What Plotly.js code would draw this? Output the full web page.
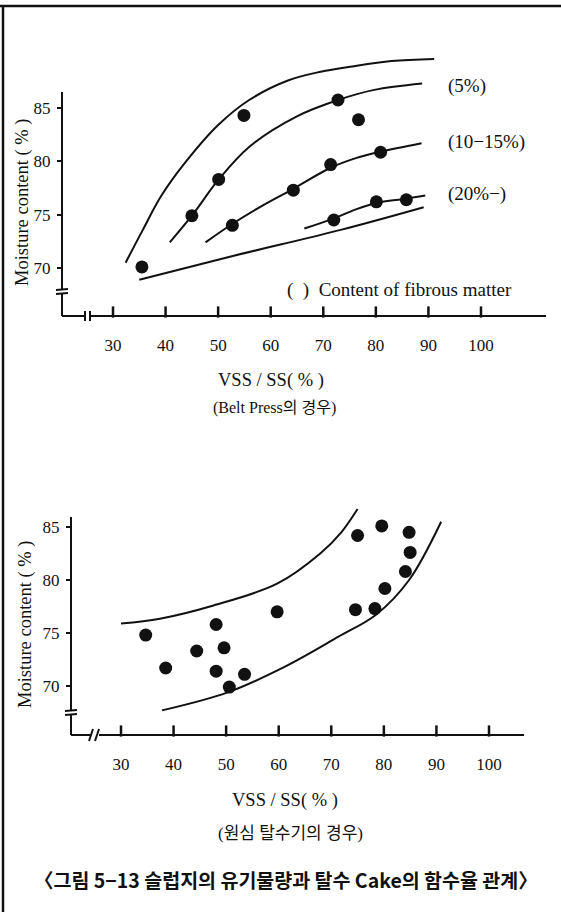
<!DOCTYPE html>
<html>
<head>
<meta charset="utf-8">
<script src="https://cdn.plot.ly/plotly-3.0.1.min.js"></script>
<style>html,body{margin:0;padding:0;background:#fff;}#chart{width:561px;height:918px;}</style>
</head>
<body>
<div id="chart"></div>
<script>
// ---- Belt press (top) ----
const beltX = [35.5, 45.0, 50.1, 54.9, 72.8, 76.7, 52.7, 64.3, 71.4, 80.9, 72.0, 80.1, 85.8];
const beltY = [70.1, 74.9, 78.3, 84.3, 85.75, 83.9, 74.0, 77.3, 79.7, 80.85, 74.5, 76.2, 76.4];

const upperEnvX = [32.4, 35.7, 39.1, 43.6, 50, 55.9, 63.4, 69.5, 75.5, 83, 91.1];
const upperEnvY = [70.5, 73.6, 76.7, 79.8, 83.4, 85.75, 87.6, 88.4, 88.9, 89.4, 89.6];
const fiber5X = [40.8, 45, 50.1, 56, 64.9, 72.8, 79.7, 88.8];
const fiber5Y = [72.4, 74.9, 78.3, 81.4, 84.2, 85.75, 86.7, 87.3];
const fiber10X = [47.6, 52.6, 58.6, 64.2, 71.4, 76.2, 80.8, 88.7];
const fiber10Y = [72.4, 74.1, 75.9, 77.4, 79.4, 80.3, 80.9, 81.7];
const fiber20X = [66.4, 71.8, 76.2, 80.1, 85.7, 89.4];
const fiber20Y = [73.7, 74.6, 75.5, 76.1, 76.5, 76.8];
const lowerEnvX = [35.0, 52.6, 73.5, 89.1];
const lowerEnvY = [68.9, 71.1, 73.6, 75.7];

// ---- Centrifuge (bottom) ----
const centX = [34.7, 38.5, 44.4, 48.1, 49.6, 48.1, 50.6, 53.5, 59.7, 74.6, 78.3, 75.0, 79.6, 84.8, 85.0, 84.1, 80.2];
const centY = [74.8, 71.7, 73.3, 75.8, 73.6, 71.4, 69.9, 71.1, 77.0, 77.2, 77.3, 84.2, 85.1, 84.5, 82.6, 80.8, 79.2];
const centUpX = [30, 37.4, 47.6, 59.7, 67.9, 71.9, 75.0];
const centUpY = [75.9, 76.35, 77.6, 79.65, 82.5, 84.5, 86.7];
const centLowX = [37.8, 50.3, 61.1, 71.2, 78.7, 84.8, 90.9];
const centLowY = [67.7, 69.4, 71.8, 74.6, 76.8, 80.0, 85.5];

const xTicks = [30, 40, 50, 60, 70, 80, 90, 100];
const xTickText = ['30', '40', '50', '60', '70', '80', '90', '100'];
const yTicks = [70, 75, 80, 85];
const yTickText = ['70', '75', '80', '85'];

const labelsTop = ['(5%)', '(10\u221215%)', '(20%\u2212)'];
const legendNote = '(  )  Content of fibrous matter';
const xTitle = 'VSS / SS( % )';
const yTitle = 'Moisture content ( % )';
const subTop = '(Belt Press\uC758 \uACBD\uC6B0)';
const subBottom = '(\uC6D0\uC2EC \uD0C8\uC218\uAE30\uC758 \uACBD\uC6B0)';
const mainTitle = '\u3008\uADF8\uB9BC 5\u221213 \uC2AC\uB7FD\uC9C0\uC758 \uC720\uAE30\uBB3C\uB7C9\uACFC \uD0C8\uC218 Cake\uC758 \uD568\uC218\uC728 \uAD00\uACC4\u3009';

const W = 561, H = 918;
const px = v => v / W;
const py = v => 1 - v / H;
const SERIF = 'Liberation Serif, Times New Roman, Noto Sans CJK KR, serif';
const BLK = '#111';

// axis ranges (plot areas span the drawn axes)
const xRange1 = [30 - 51 / 5.257, 30 + 433 / 5.257];
const yRange1 = [70 - 48 / 10.667, 85 + 58 / 10.667];
const xRange2 = [30 - 50 / 5.257, 30 + 403 / 5.257];
const yRange2 = [70 - 49 / 10.6, 85 + 27 / 10.6];

function curve(x, y, xa, ya) {
  return {x: x, y: y, xaxis: xa, yaxis: ya, mode: 'lines', type: 'scatter',
    line: {color: BLK, width: 2, shape: 'spline', smoothing: 1}, hoverinfo: 'skip', showlegend: false};
}
function dots(x, y, xa, ya) {
  return {x: x, y: y, xaxis: xa, yaxis: ya, mode: 'markers', type: 'scatter',
    marker: {color: BLK, size: 13}, hoverinfo: 'skip', showlegend: false};
}
// small upward tick marks sitting on the x axis
function tickMarks(xa, ya, yr, pxPerUnit) {
  return {x: xTicks, y: xTicks.map(() => yr[0] + 4 / pxPerUnit), xaxis: xa, yaxis: ya,
    mode: 'markers', type: 'scatter', cliponaxis: false,
    marker: {symbol: 'line-ns', size: 8, line: {color: BLK, width: 2.5}}, hoverinfo: 'skip', showlegend: false};
}

const data = [
  curve(upperEnvX, upperEnvY, 'x', 'y'),
  curve(fiber5X, fiber5Y, 'x', 'y'),
  curve(fiber10X, fiber10Y, 'x', 'y'),
  curve(fiber20X, fiber20Y, 'x', 'y'),
  curve(lowerEnvX, lowerEnvY, 'x', 'y'),
  dots(beltX, beltY, 'x', 'y'),
  tickMarks('x', 'y', yRange1, 10.667),
  curve(centUpX, centUpY, 'x2', 'y2'),
  curve(centLowX, centLowY, 'x2', 'y2'),
  dots(centX, centY, 'x2', 'y2'),
  tickMarks('x2', 'y2', yRange2, 10.6)
];

function xax(domain, range, anchor) {
  return {domain: domain, range: range, anchor: anchor, showline: false, showgrid: false, zeroline: false,
    tickmode: 'array', tickvals: xTicks, ticktext: xTickText, ticks: '',
    ticklabelstandoff: 17, tickfont: {family: SERIF, size: 17, color: BLK}};
}
function yax(domain, range, anchor) {
  return {domain: domain, range: range, anchor: anchor, showline: false, showgrid: false, zeroline: false,
    tickmode: 'array', tickvals: yTicks, ticktext: yTickText, ticks: 'outside', ticklen: 4, tickwidth: 2,
    tickcolor: BLK, ticklabelstandoff: 3, tickfont: {family: SERIF, size: 17, color: BLK}};
}

function seg(x0, y0, x1, y1, w) {
  return {type: 'line', xref: 'paper', yref: 'paper', x0: px(x0), y0: py(y0), x1: px(x1), y1: py(y1),
    line: {color: BLK, width: w || 2}};
}

const shapes = [
  // page frame
  seg(0, 6, 561, 6, 2.5),
  seg(3, 6, 3, 912, 2.5),
  // top chart axes
  seg(62, 92, 62, 290), seg(62, 294, 62, 316),
  seg(56, 290, 68, 289), seg(56, 294, 68, 293),
  seg(62, 316, 85, 316), seg(90, 316, 546, 316),
  seg(85, 311, 85, 321), seg(90, 311, 90, 321),
  // bottom chart axes
  seg(71, 517, 71, 711), seg(71, 715, 71, 735),
  seg(65, 711, 77, 710), seg(65, 715, 77, 714),
  seg(71, 735, 91, 735), seg(99, 735, 524, 735),
  seg(89, 741, 93, 729), seg(95, 741, 99, 729)
];

function ann(text, x, y, size, opts) {
  return Object.assign({text: text, xref: 'paper', yref: 'paper', x: px(x), y: py(y), showarrow: false,
    xanchor: 'center', yanchor: 'middle', font: {family: SERIF, size: size, color: BLK}}, opts || {});
}

const annotations = [
  ann(labelsTop[0], 446, 86, 19, {xanchor: 'left'}),
  ann(labelsTop[1], 446, 142, 19, {xanchor: 'left'}),
  ann(labelsTop[2], 446, 194, 19, {xanchor: 'left'}),
  ann(legendNote, 285, 290, 19, {xanchor: 'left'}),
  ann(yTitle, 23, 202, 18.5, {textangle: -90}),
  ann(xTitle, 271, 380, 18.5),
  ann(subTop, 274, 408, 16),
  ann(yTitle, 25, 624, 18.5, {textangle: -90}),
  ann(xTitle, 285, 800, 18.5),
  ann(subBottom, 290, 833, 17),
  ann(mainTitle, 286, 879, 19.5, {font: {family: 'Noto Sans CJK KR, sans-serif', size: 19.5, color: BLK, weight: 700}})
];

const layout = {
  width: W, height: H, autosize: false,
  margin: {l: 0, r: 0, t: 0, b: 0, pad: 0},
  paper_bgcolor: '#fff', plot_bgcolor: 'rgba(0,0,0,0)',
  showlegend: false,
  xaxis: xax([62 / W, 546 / W], xRange1, 'y'),
  yaxis: yax([1 - 316 / H, 1 - 50 / H], yRange1, 'x'),
  xaxis2: xax([71 / W, 524 / W], xRange2, 'y2'),
  yaxis2: yax([1 - 735 / H, 1 - 500 / H], yRange2, 'x2'),
  shapes: shapes,
  annotations: annotations
};

Plotly.newPlot('chart', data, layout, {displayModeBar: false, staticPlot: true});
</script>
</body>
</html>
